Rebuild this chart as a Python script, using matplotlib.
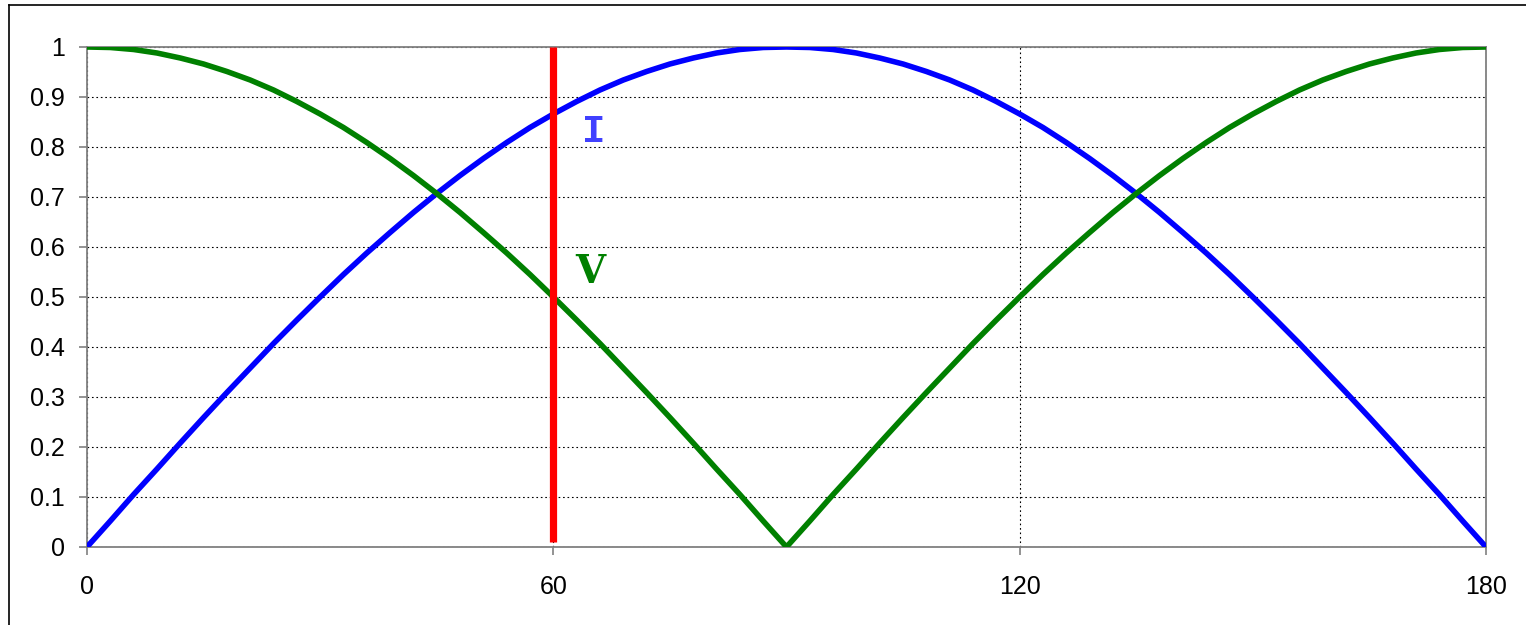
import matplotlib
matplotlib.use("Agg")
import matplotlib.pyplot as plt
from matplotlib.lines import Line2D

angle = list(range(0, 181, 3))
current_i = [0.0, 0.052, 0.105, 0.156, 0.208, 0.259, 0.309, 0.358, 0.407, 0.454,
             0.5, 0.545, 0.588, 0.629, 0.669, 0.707, 0.743, 0.777, 0.809, 0.839,
             0.866, 0.891, 0.914, 0.934, 0.951, 0.966, 0.978, 0.988, 0.995, 0.999,
             1.0, 0.999, 0.995, 0.988, 0.978, 0.966, 0.951, 0.934, 0.914, 0.891,
             0.866, 0.839, 0.809, 0.777, 0.743, 0.707, 0.669, 0.629, 0.588, 0.545,
             0.5, 0.454, 0.407, 0.358, 0.309, 0.259, 0.208, 0.156, 0.105, 0.052,
             0.0]
voltage_v = [1.0, 0.999, 0.995, 0.988, 0.978, 0.966, 0.951, 0.934, 0.914, 0.891,
             0.866, 0.839, 0.809, 0.777, 0.743, 0.707, 0.669, 0.629, 0.588, 0.545,
             0.5, 0.454, 0.407, 0.358, 0.309, 0.259, 0.208, 0.156, 0.105, 0.052,
             0.0, 0.052, 0.105, 0.156, 0.208, 0.259, 0.309, 0.358, 0.407, 0.454,
             0.5, 0.545, 0.588, 0.629, 0.669, 0.707, 0.743, 0.777, 0.809, 0.839,
             0.866, 0.891, 0.914, 0.934, 0.951, 0.966, 0.978, 0.988, 0.995, 0.999,
             1.0]

marker_x = [60, 60]
marker_y = [0.01, 1.0]

x_ticks = [0, 60, 120, 180]
y_ticks = [0, 0.1, 0.2, 0.3, 0.4, 0.5, 0.6, 0.7, 0.8, 0.9, 1]
y_tick_labels = ["0", "0.1", "0.2", "0.3", "0.4", "0.5", "0.6", "0.7", "0.8", "0.9", "1"]

plt.rcParams['font.family'] = ['Liberation Sans', 'DejaVu Sans']

fig = plt.figure(figsize=(15.26, 6.25), dpi=100)
ax = fig.add_axes([87 / 1526, 1 - 547 / 625, 1399 / 1526, 500 / 625])

# outer chart frame (only top and left edges visible)
fig.add_artist(Line2D([9 / 1526, 1.0], [1 - 5 / 625, 1 - 5 / 625],
                      transform=fig.transFigure, color='black', lw=1.2))
fig.add_artist(Line2D([9 / 1526, 9 / 1526], [0.0, 1 - 5 / 625],
                      transform=fig.transFigure, color='black', lw=1.2))

ax.plot(angle, current_i, color='#0000ff', lw=4.0, solid_capstyle='round',
        solid_joinstyle='round', zorder=3)
ax.plot(angle, voltage_v, color='#008000', lw=4.0, solid_capstyle='round',
        solid_joinstyle='round', zorder=3)
ax.plot(marker_x, marker_y, color='#ff0000', lw=5.2, solid_capstyle='butt', zorder=4)

ax.text(65.2, 0.83, "I", color='#4040ff', fontsize=28, fontweight='bold',
        family='Liberation Mono', ha='center', va='center')
ax.text(64.8, 0.55, "V", color='#008000', fontsize=28, fontweight='bold',
        family='DejaVu Serif', ha='center', va='center')

ax.set_xlim(0, 180)
ax.set_ylim(0, 1)
ax.set_xticks(x_ticks)
ax.set_yticks(y_ticks)
ax.set_yticklabels(y_tick_labels)

ax.grid(True, color='black', linestyle=(0, (1.5, 2.5)), lw=0.8)
ax.set_axisbelow(True)

for s in ax.spines.values():
    s.set_color('#808080')
    s.set_linewidth(1.3)

ax.tick_params(axis='both', direction='out', length=6, width=1.2, color='#808080',
               labelsize=18, labelcolor='black')
ax.tick_params(axis='x', pad=14)
ax.tick_params(axis='y', pad=10)

fig.savefig("out.png", dpi=100, facecolor='white')
